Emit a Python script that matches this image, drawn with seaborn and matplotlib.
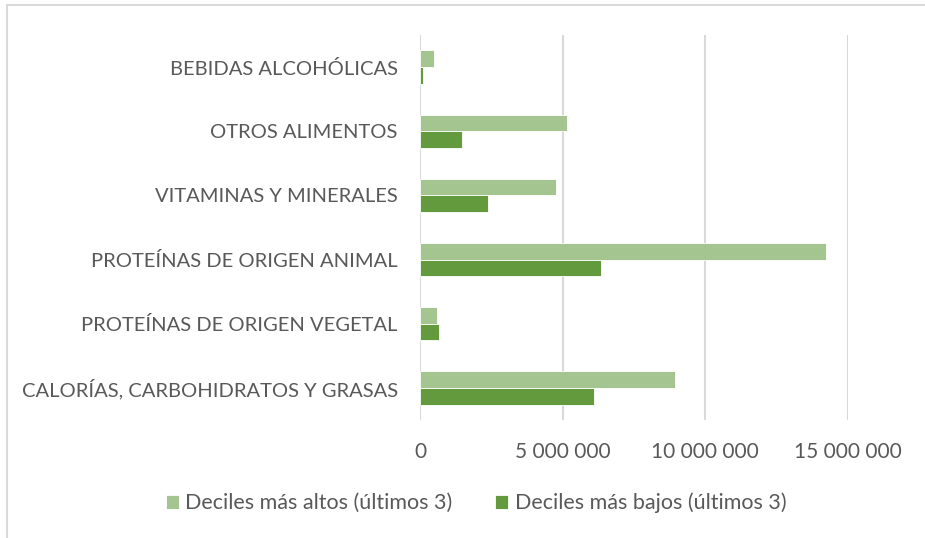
import matplotlib
matplotlib.use("Agg")
import matplotlib.pyplot as plt
import seaborn as sns
import pandas as pd
from matplotlib.patches import Rectangle
from matplotlib.ticker import FuncFormatter

categorias = [
    'BEBIDAS ALCOHÓLICAS', 'OTROS ALIMENTOS', 'VITAMINAS Y MINERALES',
    'PROTEÍNAS DE ORIGEN ANIMAL', 'PROTEÍNAS DE ORIGEN VEGETAL',
    'CALORÍAS, CARBOHIDRATOS Y GRASAS'
]
altos = [490000, 5140000, 4760000, 14230000, 580000, 8920000]
bajos = [90000, 1460000, 2370000, 6340000, 670000, 6090000]
series = ['Deciles más altos (últimos 3)', 'Deciles más bajos (últimos 3)']
colores = ['#A4C490', '#629A3D']

df = pd.concat([
    pd.DataFrame({'Categoria': categorias, 'Valor': altos, 'Serie': series[0]}),
    pd.DataFrame({'Categoria': categorias, 'Valor': bajos, 'Serie': series[1]}),
], ignore_index=True)

sns.set_style('white')
plt.rcParams['font.family'] = ['Lato', 'DejaVu Sans']

fig = plt.figure(figsize=(9.25, 5.38), dpi=100)
ax = fig.add_axes([420 / 925, 1 - 420 / 538, (848 - 420) / 925, (420 - 35) / 538])

sns.barplot(data=df, y='Categoria', x='Valor', hue='Serie', order=categorias,
            hue_order=series, palette=colores, width=0.52, orient='h',
            saturation=1, edgecolor='white', linewidth=0.6, ax=ax)

ax.set_xlim(0, 15000000)
ax.set_xticks([0, 5000000, 10000000, 15000000])
ax.xaxis.set_major_formatter(FuncFormatter(lambda v, p: f'{int(v):,}'.replace(',', ' ')))
ax.grid(axis='x', color='#D9D9D9', linewidth=1.5)
ax.set_axisbelow(True)
for s in ax.spines.values():
    s.set_visible(False)
ax.set_xlabel('')
ax.set_ylabel('')
ax.tick_params(axis='x', colors='#595959', labelsize=15, pad=16, length=0)
ax.tick_params(axis='y', colors='#595959', labelsize=14.5, pad=16, length=0)

leg = ax.legend(loc='center', bbox_to_anchor=(476 / 925, 1 - 503 / 538),
                bbox_transform=fig.transFigure, ncol=2, frameon=False,
                fontsize=15.5, handlelength=0.6, handleheight=0.6,
                handletextpad=0.3, columnspacing=2.0)
for t in leg.get_texts():
    t.set_color('#595959')

fig.add_artist(Rectangle((6.5 / 925, -0.1), 1.2, 1.1 - 5.5 / 538,
                         transform=fig.transFigure, fill=False,
                         edgecolor='#D9D9D9', linewidth=1.5, clip_on=False))

fig.savefig('out.png', dpi=100)
